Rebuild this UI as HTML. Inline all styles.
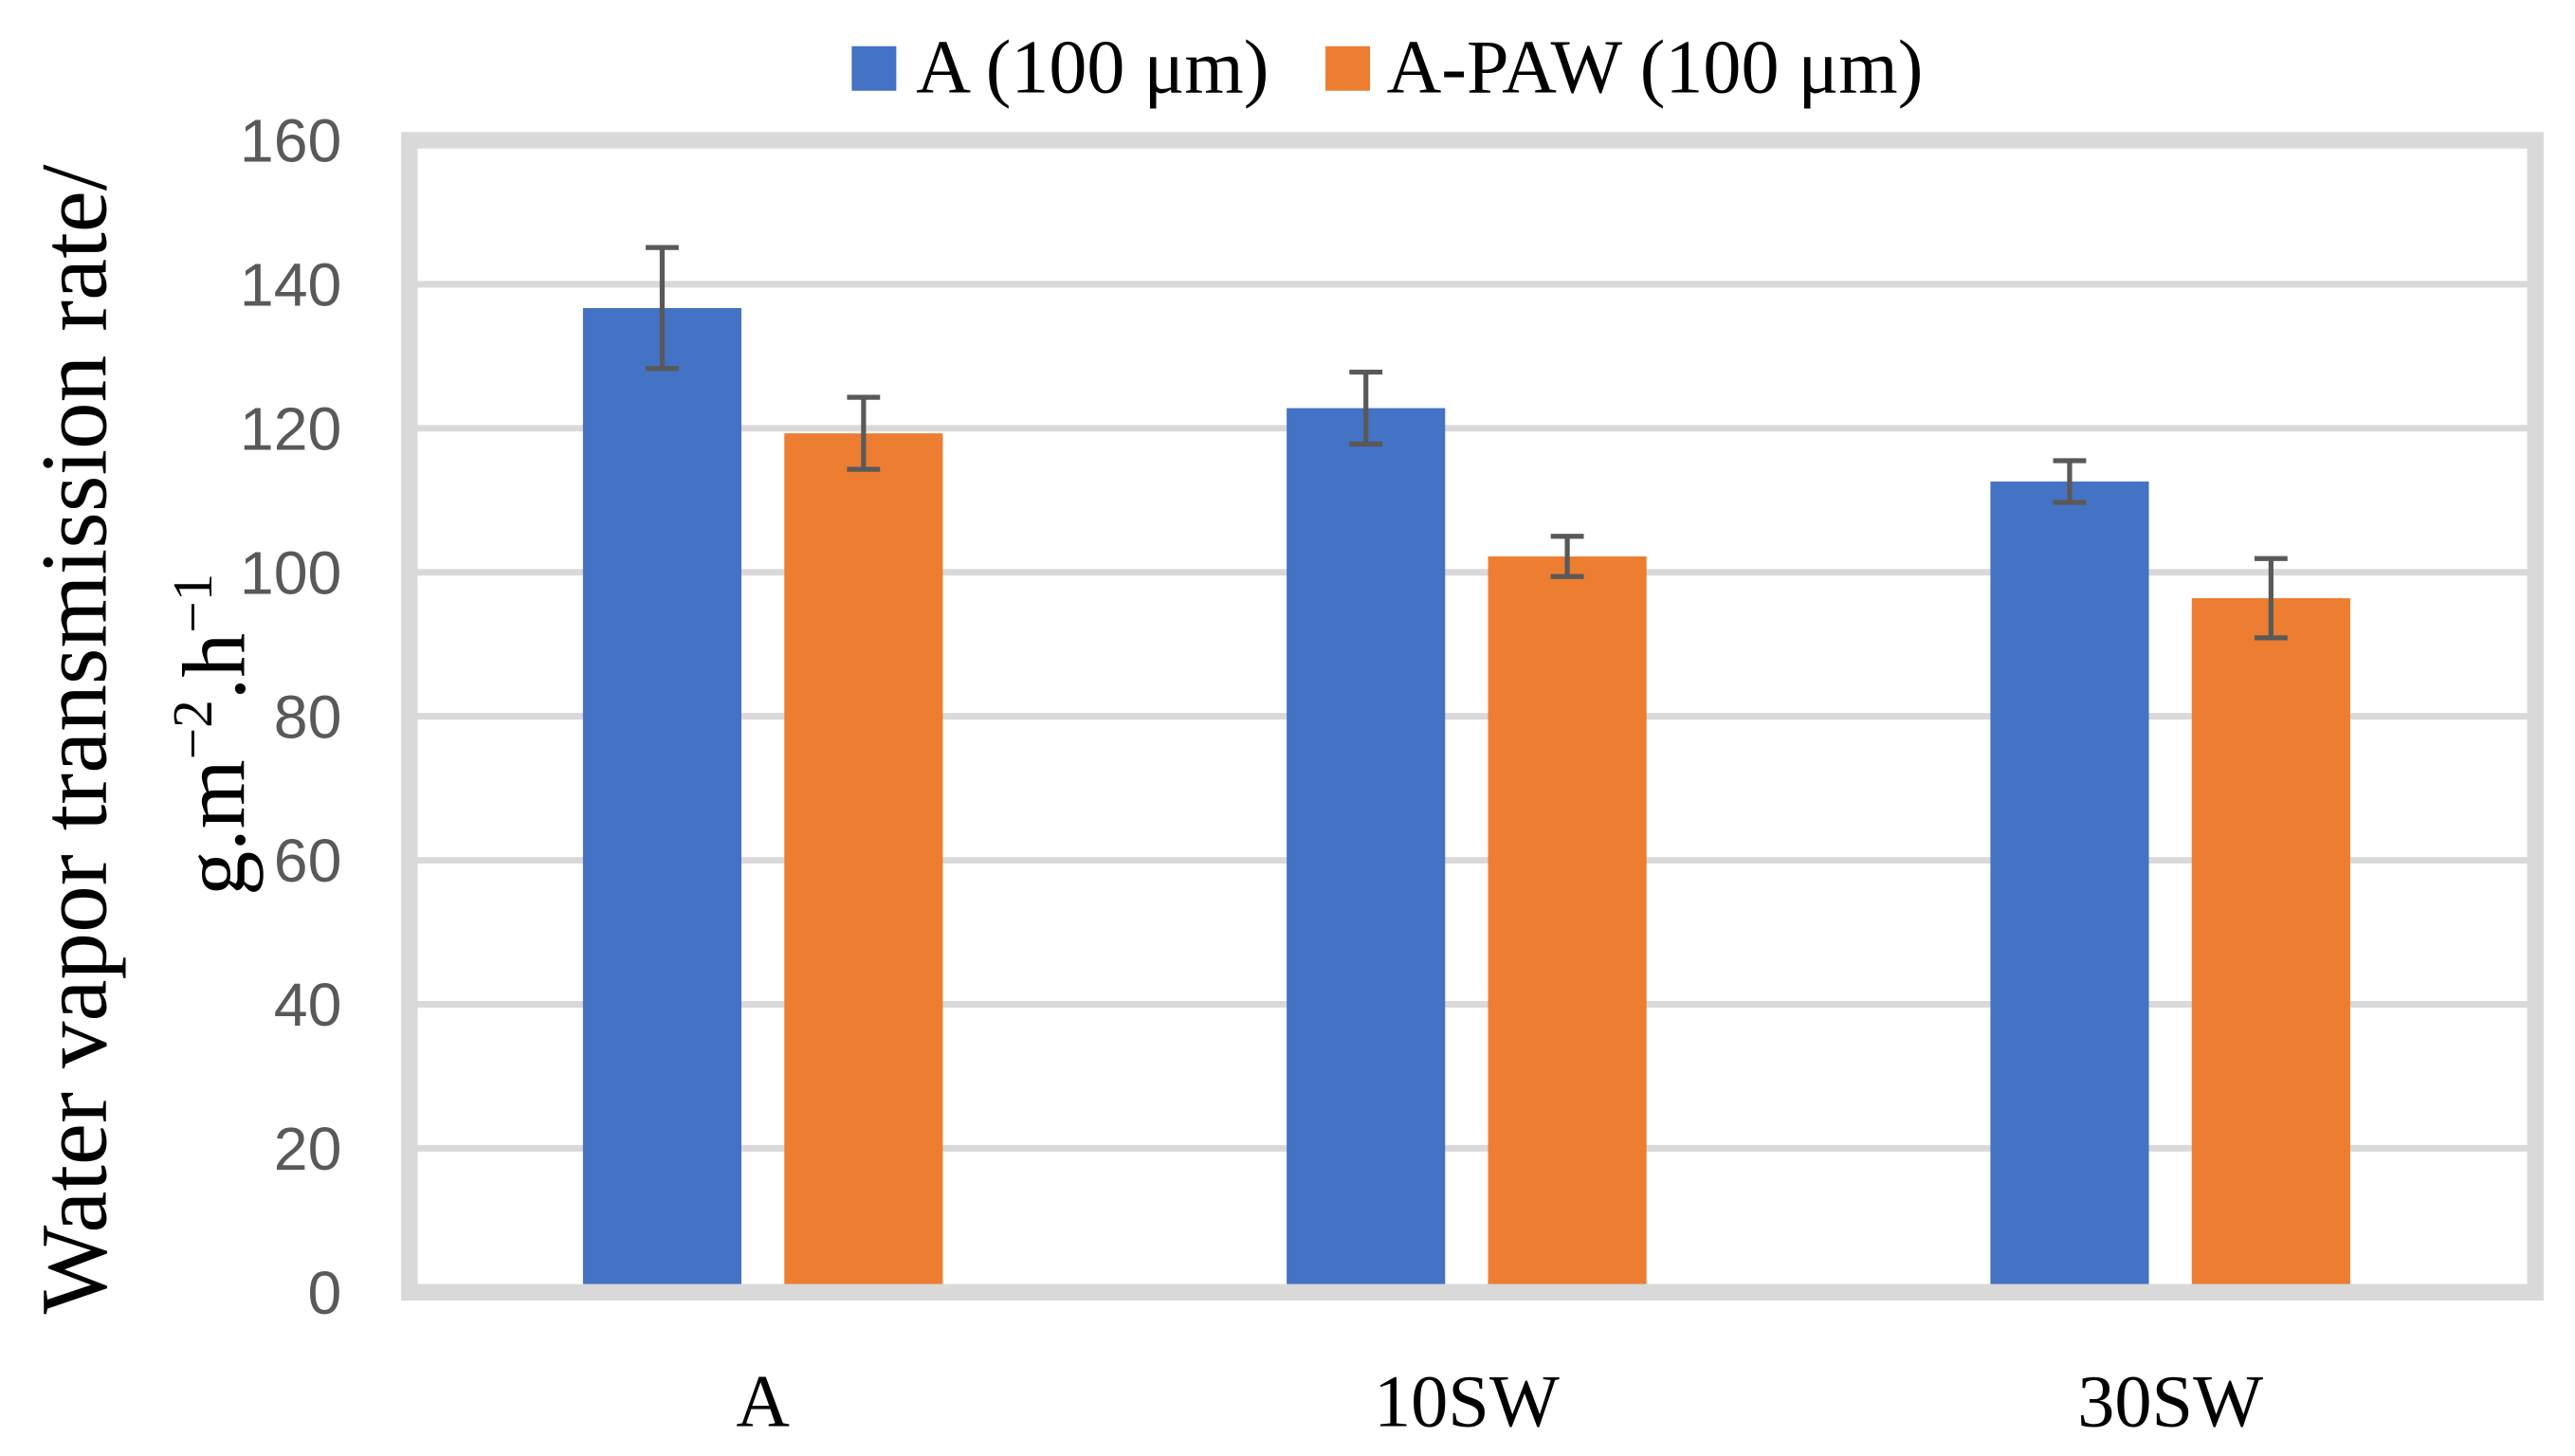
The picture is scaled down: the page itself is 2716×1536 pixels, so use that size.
<!DOCTYPE html>
<html><head><meta charset="utf-8"><style>
html,body{margin:0;padding:0;background:#fff;}
svg{display:block;}
</style></head><body>
<svg id="chart" width="2716" height="1536" viewBox="0 0 1560 882.2" preserveAspectRatio="none" xmlns="http://www.w3.org/2000/svg">
<g id="grid"></g>
<g id="bars"></g>
<g id="errs"></g>
<rect x="248" y="85" width="1288" height="698" fill="none" stroke="#d9d9d9" stroke-width="10"/>
<g id="yticks" font-family="'Liberation Sans', sans-serif" font-size="37" fill="#595959" text-anchor="end"></g>
<g id="xticks" font-family="'Liberation Serif', serif" font-size="45" fill="#000" text-anchor="middle"></g>
<g font-family="'Liberation Serif', serif" font-size="57" fill="#000" text-anchor="middle">
<text transform="translate(64,448) rotate(-90)">Water vapor transmission rate/</text>
<text font-size="54" transform="translate(148,445) rotate(-90)">g.m<tspan font-size="34" dy="-20">−2</tspan><tspan dy="20">.h</tspan><tspan font-size="34" dy="-20">−1</tspan></text>
</g>
<g font-family="'Liberation Serif', serif" font-size="46" fill="#000">
<rect x="516" y="28" width="27" height="27" fill="#4472c4"/>
<text x="555" y="56">A (100 μm)</text>
<rect x="803" y="28" width="27" height="27" fill="#ed7d31"/>
<text x="840" y="56">A-PAW (100 μm)</text>
</g>
</svg>
<script>
const categories = ["A", "10SW", "30SW"];
const seriesA = [136.7, 122.8, 112.6];
const seriesAPAW = [119.3, 102.2, 96.4];
const errA = [8.4, 5.0, 2.9];
const errAPAW = [5.0, 2.8, 5.5];
const yTicks = [0, 20, 40, 60, 80, 100, 120, 140, 160];

const NS = "http://www.w3.org/2000/svg";
const plotL = 253, plotR = 1532, y0 = 783, yTop = 85, yMax = 160;
function yS(v){ return y0 - (v / yMax) * (y0 - yTop); }
const catW = (plotR - plotL) / categories.length;
function xC(i){ return plotL + catW * (i + 0.5) - 4; }
const barW = 96, gap = 26;
function mk(tag, attrs, parent){ const e = document.createElementNS(NS, tag); for (const k in attrs) e.setAttribute(k, attrs[k]); parent.appendChild(e); return e; }

const grid = document.getElementById('grid');
const yt = document.getElementById('yticks');
yTicks.forEach(v => {
  const l = mk('line', {x1: 248, x2: 1536, y1: yS(v), y2: yS(v), stroke: '#d9d9d9', 'stroke-width': 4}, grid);
  
  
  const t = mk('text', {x: 207, y: yS(v) + 13}, yt);
  t.textContent = v;
  
  
});

const bars = document.getElementById('bars');
const errs = document.getElementById('errs');
const xt = document.getElementById('xticks');
const series = [[seriesA, errA, '#4472c4', 'a'], [seriesAPAW, errAPAW, '#ed7d31', 'a-paw']];
categories.forEach((c, i) => {
  series.forEach((s, j) => {
    const x = j === 0 ? xC(i) - gap / 2 - barW : xC(i) + gap / 2;
    const v = s[0][i];
    const r = mk('rect', {x: x, y: yS(v), width: barW, height: y0 - yS(v), fill: s[2]}, bars);
    
    
    const cx = x + barW / 2, hi = yS(v + s[1][i]), lo = yS(v - s[1][i]);
    const g = mk('g', {stroke: '#595959', 'stroke-width': 3}, errs);
    
    
    mk('line', {x1: cx, x2: cx, y1: hi, y2: lo}, g);
    mk('line', {x1: cx - 10, x2: cx + 10, y1: hi, y2: hi}, g);
    mk('line', {x1: cx - 10, x2: cx + 10, y1: lo, y2: lo}, g);
  });
  const t = mk('text', {x: xC(i), y: 864}, xt);
  t.textContent = c;
  
  
});
</script>
</body></html>
